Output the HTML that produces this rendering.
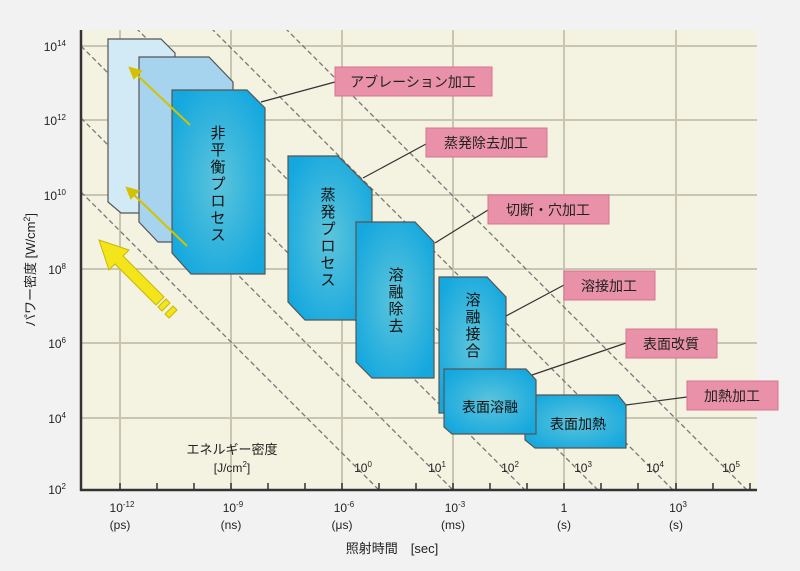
<!DOCTYPE html>
<html><head><meta charset="utf-8"><style>
html,body{margin:0;padding:0;background:#f2f2f2;}
svg{display:block;font-family:"Liberation Sans","Noto Sans CJK JP",sans-serif;}
</style></head><body>
<svg width="800" height="571" viewBox="0 0 800 571" xmlns="http://www.w3.org/2000/svg">
<defs>
<radialGradient id="bg1" cx="50%" cy="50%" r="60%">
<stop offset="0" stop-color="#5cc4dc"/><stop offset="1" stop-color="#15a8de"/>
</radialGradient>
<clipPath id="pc"><rect x="81" y="30" width="676" height="460"/></clipPath>
</defs>
<rect x="0" y="0" width="800" height="571" fill="#f2f2f2"/>
<rect x="81" y="30" width="676" height="460" fill="#f4f2e0"/>
<g stroke="#c9c5b3" stroke-width="2">
<line x1="81" y1="46" x2="757" y2="46"/>
<line x1="81" y1="120" x2="757" y2="120"/>
<line x1="81" y1="195" x2="757" y2="195"/>
<line x1="81" y1="269" x2="757" y2="269"/>
<line x1="81" y1="343" x2="757" y2="343"/>
<line x1="81" y1="418" x2="757" y2="418"/>
<line x1="120" y1="30" x2="120" y2="490"/>
<line x1="231" y1="30" x2="231" y2="490"/>
<line x1="342" y1="30" x2="342" y2="490"/>
<line x1="453" y1="30" x2="453" y2="490"/>
<line x1="564" y1="30" x2="564" y2="490"/>
<line x1="676" y1="30" x2="676" y2="490"/>
</g>
<g clip-path="url(#pc)" stroke="#777" stroke-width="1.3" stroke-dasharray="5,3" fill="none">
<line x1="81" y1="192" x2="381" y2="492"/>
<line x1="81" y1="118" x2="455" y2="492"/>
<line x1="81" y1="46" x2="527" y2="492"/>
<line x1="108" y1="0" x2="600" y2="492"/>
<line x1="183" y1="0" x2="675" y2="492"/>
<line x1="257" y1="0" x2="749" y2="492"/>
</g>
<line x1="81" y1="30" x2="81" y2="491" stroke="#333" stroke-width="2.5"/>
<line x1="80" y1="490" x2="757" y2="490" stroke="#333" stroke-width="2.5"/>
<g stroke="#333" stroke-width="1.5">
<line x1="120" y1="483" x2="120" y2="490"/><line x1="157" y1="483" x2="157" y2="490"/><line x1="194" y1="483" x2="194" y2="490"/><line x1="231" y1="483" x2="231" y2="490"/><line x1="268" y1="483" x2="268" y2="490"/><line x1="305" y1="483" x2="305" y2="490"/><line x1="342" y1="483" x2="342" y2="490"/><line x1="379" y1="483" x2="379" y2="490"/><line x1="416" y1="483" x2="416" y2="490"/><line x1="453" y1="483" x2="453" y2="490"/><line x1="490" y1="483" x2="490" y2="490"/><line x1="527" y1="483" x2="527" y2="490"/><line x1="564" y1="483" x2="564" y2="490"/><line x1="601" y1="483" x2="601" y2="490"/><line x1="638" y1="483" x2="638" y2="490"/><line x1="676" y1="483" x2="676" y2="490"/><line x1="713" y1="483" x2="713" y2="490"/><line x1="750" y1="483" x2="750" y2="490"/>
</g>
<g stroke="#555" stroke-width="1.2">
<polygon points="108,39 161,39 175,53 175,213 121,213 108,202" fill="#d2e9f6"/>
<polygon points="139,57 209,57 233,82 233,242 158,242 139,222" fill="#a6d4ef"/>
<polygon points="172,90 247,90 265,108 265,274 191,274 172,253" fill="url(#bg1)"/>
<polygon points="288,156 338,156 372,190 372,320 305,320 288,302" fill="url(#bg1)"/>
<polygon points="356,222 415,222 434,242 434,378 372,378 356,362" fill="url(#bg1)"/>
<polygon points="439,277 487,277 506,297 506,413 439,413" fill="url(#bg1)"/>
<polygon points="525,395 618,395 626,405 626,448 535,448 525,440" fill="url(#bg1)"/>
<polygon points="444,369 526,369 536,380 536,434 452,434 444,427" fill="url(#bg1)"/>
</g>
<g stroke="#d4c200" stroke-width="2" fill="#d4c200">
<line x1="190" y1="125" x2="136" y2="74"/>
<polygon points="130,68 141,71 134,78" />
<line x1="187" y1="246" x2="133" y2="194"/>
<polygon points="127,188 138,191 131,198"/>
</g>
<g fill="#f3e41c" stroke="#c9b800" stroke-width="1">
<polygon points="99,240 129,250 123,256 164,297 156,305 115,264 109,270"/>
<polygon points="166,299 170,303 162,311 158,307"/>
<polygon points="173,306 177,310 169,318 165,314"/>
</g>
<g font-size="15" fill="#111" text-anchor="middle">
<text x="218" y="138">非</text><text x="218" y="155">平</text><text x="218" y="172">衡</text><text x="218" y="189">プ</text><text x="218" y="206">ロ</text><text x="218" y="223">セ</text><text x="218" y="240">ス</text>
<text x="328" y="200">蒸</text><text x="328" y="217">発</text><text x="328" y="234">プ</text><text x="328" y="251">ロ</text><text x="328" y="268">セ</text><text x="328" y="285">ス</text>
<text x="396" y="280">溶</text><text x="396" y="297">融</text><text x="396" y="314">除</text><text x="396" y="331">去</text>
<text x="473" y="305">溶</text><text x="473" y="322">融</text><text x="473" y="339">接</text><text x="473" y="356">合</text>
</g>
<g font-size="14" fill="#111" text-anchor="middle">
<text x="490" y="412">表面溶融</text>
<text x="578" y="429">表面加熱</text>
</g>
<g stroke="#333" stroke-width="1.2">
<line x1="261" y1="102" x2="335" y2="82"/>
<line x1="363" y1="178" x2="426" y2="144"/>
<line x1="435" y1="243" x2="488" y2="210"/>
<line x1="506" y1="316" x2="564" y2="285"/>
<line x1="532" y1="375" x2="626" y2="343"/>
<line x1="626" y1="405" x2="687" y2="397"/>
</g>
<g fill="#e891a8" stroke="#d9748f" stroke-width="1">
<rect x="335" y="67" width="157" height="29"/>
<rect x="426" y="128" width="121" height="29"/>
<rect x="488" y="195" width="121" height="29"/>
<rect x="564" y="271" width="91" height="29"/>
<rect x="626" y="329" width="91" height="29"/>
<rect x="687" y="381" width="91" height="29"/>
</g>
<g font-size="14" fill="#222" text-anchor="middle">
<text x="413" y="87">アブレーション加工</text>
<text x="486" y="148">蒸発除去加工</text>
<text x="548" y="215">切断・穴加工</text>
<text x="609" y="291">溶接加工</text>
<text x="671" y="349">表面改質</text>
<text x="732" y="401">加熱加工</text>
</g>
<g font-size="12" fill="#222" text-anchor="end">
<text x="66" y="51">10<tspan font-size="8" dy="-5">14</tspan></text>
<text x="66" y="125">10<tspan font-size="8" dy="-5">12</tspan></text>
<text x="66" y="200">10<tspan font-size="8" dy="-5">10</tspan></text>
<text x="66" y="274">10<tspan font-size="8" dy="-5">8</tspan></text>
<text x="66" y="348">10<tspan font-size="8" dy="-5">6</tspan></text>
<text x="66" y="423">10<tspan font-size="8" dy="-5">4</tspan></text>
<text x="66" y="494">10<tspan font-size="8" dy="-5">2</tspan></text>
</g>
<text transform="translate(35,270) rotate(-90)" font-size="13" fill="#222" text-anchor="middle">パワー密度  [W/cm<tspan font-size="9" dy="-5">2</tspan><tspan dy="5">]</tspan></text>
<g font-size="12" fill="#222" text-anchor="middle">
<text x="122" y="512">10<tspan font-size="8" dy="-5">-12</tspan></text>
<text x="233" y="512">10<tspan font-size="8" dy="-5">-9</tspan></text>
<text x="344" y="512">10<tspan font-size="8" dy="-5">-6</tspan></text>
<text x="455" y="512">10<tspan font-size="8" dy="-5">-3</tspan></text>
<text x="564" y="512">1</text>
<text x="678" y="512">10<tspan font-size="8" dy="-5">3</tspan></text>
<text x="120" y="529">(ps)</text>
<text x="231" y="529">(ns)</text>
<text x="342" y="529">(μs)</text>
<text x="453" y="529">(ms)</text>
<text x="564" y="529">(s)</text>
<text x="676" y="529">(s)</text>
</g>
<text x="392" y="553" font-size="13" fill="#222" text-anchor="middle">照射時間　[sec]</text>
<text x="232" y="454" font-size="13" fill="#222" text-anchor="middle">エネルギー密度</text>
<text x="232" y="472" font-size="12" fill="#222" text-anchor="middle">[J/cm<tspan font-size="8" dy="-5">2</tspan><tspan dy="5">]</tspan></text>
<g font-size="12" fill="#222" text-anchor="middle">
<text x="363" y="472">10<tspan font-size="8" dy="-5">0</tspan></text>
<text x="437" y="472">10<tspan font-size="8" dy="-5">1</tspan></text>
<text x="510" y="472">10<tspan font-size="8" dy="-5">2</tspan></text>
<text x="583" y="472">10<tspan font-size="8" dy="-5">3</tspan></text>
<text x="655" y="472">10<tspan font-size="8" dy="-5">4</tspan></text>
<text x="731" y="472">10<tspan font-size="8" dy="-5">5</tspan></text>
</g>
</svg>
</body></html>
